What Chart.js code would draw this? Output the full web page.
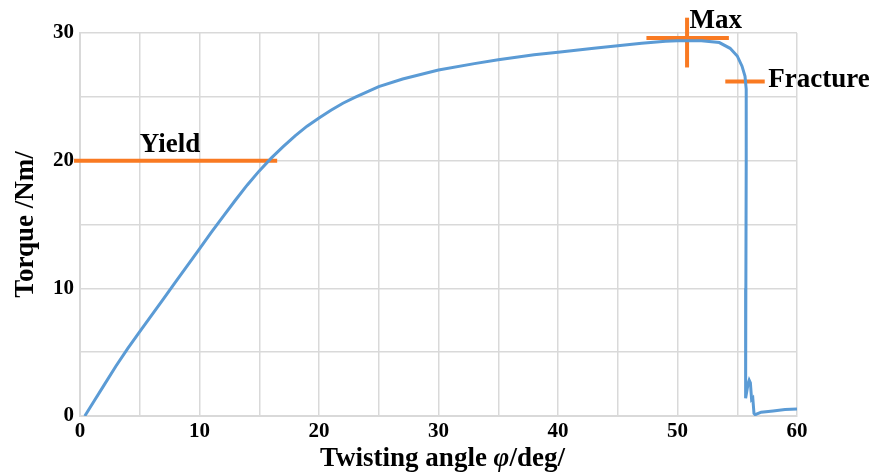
<!DOCTYPE html>
<html>
<head>
<meta charset="utf-8">
<script src="https://cdn.jsdelivr.net/npm/chart.js@4/dist/chart.umd.min.js"></script>
<style>
  html, body { margin: 0; padding: 0; background: #fff; }
  #box { width: 875px; height: 475px; }
</style>
</head>
<body>
<div id="box"><canvas id="torqueChart" width="875" height="475"></canvas></div>
<script>
const angle = [0.4, 1, 2, 3, 4, 5, 6, 7, 8, 9, 10, 11, 12, 13, 14, 15, 16, 17, 18, 19, 20,
  21, 22, 23, 25, 27, 30, 33, 35, 38, 40, 43, 45, 47, 49, 50, 52, 53.5, 54.4, 55, 55.4,
  55.65, 55.75, 55.75, 55.72, 55.7, 55.7, 55.9, 56.0, 56.1, 56.2, 56.3, 56.4, 56.5, 57, 58, 59, 60];
const torque = [0, 0.9, 2.4, 3.9, 5.3, 6.6, 7.9, 9.2, 10.5, 11.8, 13.1, 14.4, 15.65, 16.9, 18.1, 19.2, 20.2, 21.1, 21.95, 22.7, 23.35,
  23.95, 24.5, 24.95, 25.8, 26.4, 27.1, 27.6, 27.9, 28.3, 28.5, 28.8, 29.0, 29.2, 29.35, 29.4, 29.4, 29.25, 28.8, 28.2, 27.4,
  26.6, 25.6, 20, 10, 3, 1.4, 2.5, 2.8, 2.6, 1.3, 1.4, 0.2, 0.1, 0.3, 0.4, 0.5, 0.55];

// marker lines
const yieldLine = { x: [-0.5, 16.5], y: [20, 20] };
const maxHLine = { x: [47.4, 54.3], y: [29.6, 29.6] };
const maxVLine = { x: [50.8, 50.8], y: [27.3, 31.2] };
const fractureLine = { x: [54.0, 57.3], y: [26.2, 26.2] };

// marker labels
const noteText = ['Yield', 'Max', 'Fracture'];
const noteX = [5.0, 51.0, 57.6];
const noteY = [21.2, 30.9, 26.3];

const xTickStep = 5;
const yTickStep = 5;

const BLUE = '#5b9bd5';
const ORANGE = '#f97a22';
const GRID = '#d9d9d9';
const SERIF = "'Liberation Serif', 'Times New Roman', serif";

function pts(xs, ys) {
  return xs.map((x, i) => ({ x: x, y: ys[i] }));
}

function markerSet(line) {
  return {
    data: pts(line.x, line.y),
    borderColor: ORANGE,
    borderWidth: 4,
    pointRadius: 0,
    showLine: true,
    clip: false,
    order: 2
  };
}

const notesPlugin = {
  id: 'notes',
  afterDraw(chart) {
    const ctx = chart.ctx;
    const xs = chart.scales.x, ys = chart.scales.y;
    ctx.save();
    ctx.fillStyle = '#000';
    ctx.font = 'bold 27px ' + SERIF;
    ctx.textAlign = 'left';
    ctx.textBaseline = 'middle';
    noteText.forEach((t, i) => {
      ctx.fillText(t, xs.getPixelForValue(noteX[i]), ys.getPixelForValue(noteY[i]));
    });

    // x axis title with italic phi
    const parts = [
      { t: 'Twisting angle ', f: 'bold 27px ' + SERIF },
      { t: 'φ', f: 'italic bold 27px ' + SERIF },
      { t: '/deg/', f: 'bold 27px ' + SERIF }
    ];
    let w = 0;
    parts.forEach(p => { ctx.font = p.f; p.w = ctx.measureText(p.t).width; w += p.w; });
    let cx = (chart.chartArea.left + chart.chartArea.right) / 2 + 4 - w / 2;
    const cy = chart.height - 16;
    parts.forEach(p => { ctx.font = p.f; ctx.fillText(p.t, cx, cy); cx += p.w; });
    ctx.restore();
  }
};

const ctx = document.getElementById('torqueChart').getContext('2d');
new Chart(ctx, {
  type: 'scatter',
  data: {
    datasets: [
      {
        label: 'Torque',
        data: pts(angle, torque),
        borderColor: BLUE,
        borderWidth: 3,
        pointRadius: 0,
        showLine: true,
        tension: 0,
        order: 1
      },
      markerSet(yieldLine),
      markerSet(maxHLine),
      markerSet(maxVLine),
      markerSet(fractureLine)
    ]
  },
  options: {
    responsive: false,
    devicePixelRatio: 1,
    animation: false,
    layout: { padding: { top: 33, right: 78, left: 0, bottom: 0 } },
    plugins: {
      legend: { display: false },
      tooltip: { enabled: false }
    },
    scales: {
      x: {
        type: 'linear',
        min: 0,
        max: 60,
        afterFit: s => { s.height = 59; },
        ticks: {
          stepSize: xTickStep,
          autoSkip: false,
          maxRotation: 0,
          padding: 3,
          color: '#000',
          font: { family: SERIF, size: 21, weight: 'bold' },
          callback: v => (v % 10 === 0 ? v : '')
        },
        grid: { color: GRID, lineWidth: 1.5, drawTicks: false },
        border: { color: GRID, width: 2 },
        title: { display: false }
      },
      y: {
        min: 0,
        max: 30,
        afterFit: s => { s.width = 80; },
        ticks: {
          stepSize: yTickStep,
          padding: 6,
          color: '#000',
          font: { family: SERIF, size: 21, weight: 'bold' },
          callback: v => (v % 10 === 0 ? v : '')
        },
        grid: { color: GRID, lineWidth: 1.5, drawTicks: false },
        border: { color: GRID, width: 2 },
        title: {
          display: true,
          text: 'Torque /Nm/',
          color: '#000',
          font: { family: SERIF, size: 27, weight: 'bold' },
          padding: { top: 10, bottom: 0 }
        }
      }
    }
  },
  plugins: [notesPlugin]
});
</script>
</body>
</html>
